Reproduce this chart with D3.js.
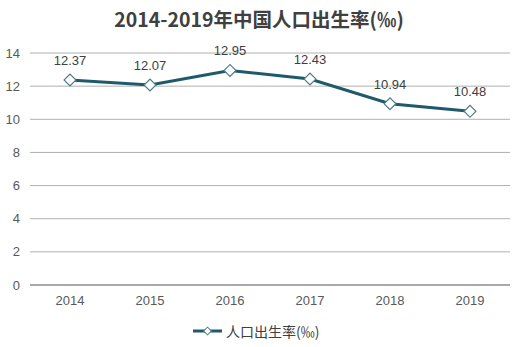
<!DOCTYPE html>
<html><head><meta charset="utf-8">
<script src="https://cdn.jsdelivr.net/npm/d3@7"></script>
<style>body{margin:0;background:#fff;}svg{display:block;font-family:"Liberation Sans",Arial,"Noto Sans CJK SC",sans-serif;}</style>
</head><body>
<svg id="c" width="522" height="347"></svg>
<script>
const years = ["2014","2015","2016","2017","2018","2019"];
const rates = [12.37, 12.07, 12.95, 12.43, 10.94, 10.48];
const yTicks = [0,2,4,6,8,10,12,14];
const title = "2014-2019年中国人口出生率(‰)";
const seriesName = "人口出生率(‰)";

const svg = d3.select("#c");
const x = d3.scaleBand().domain(years).range([30,510]);
const y = d3.scaleLinear().domain([0,14]).range([285,53]);

svg.append("text").attr("x",259).attr("y",27).attr("text-anchor","middle")
  .attr("font-size",19.5).attr("font-weight","bold").attr("fill","#404040")
  .attr("font-family","'Noto Sans CJK SC','Liberation Sans',sans-serif").text(title);

const gy = svg.append("g");
gy.selectAll("line").data(yTicks).join("line")
  .attr("x1",30).attr("x2",510).attr("y1",d=>y(d)).attr("y2",d=>y(d))
  .attr("stroke",d=>d===0?"#8c8c8c":"#b0b0b0").attr("stroke-width",d=>d===0?1.5:1);
gy.selectAll("text").data(yTicks).join("text")
  .attr("x",20).attr("y",d=>y(d)+4.5).attr("text-anchor","end")
  .attr("font-size",13).attr("fill","#595959").text(d=>d);

svg.append("g").selectAll("text").data(years).join("text")
  .attr("x",d=>x(d)+x.bandwidth()/2).attr("y",305).attr("text-anchor","middle")
  .attr("font-size",13).attr("fill","#595959").text(d=>d);

const cx = (d,i)=>x(years[i])+x.bandwidth()/2;
const line = d3.line().x((d,i)=>cx(d,i)).y(d=>y(d));
svg.append("path").datum(rates).attr("d",line).attr("fill","none")
  .attr("stroke","#1f5a6b").attr("stroke-width",3);

svg.append("g").selectAll("path").data(rates).join("path")
  .attr("transform",(d,i)=>`translate(${cx(d,i)},${y(d)}) rotate(45)`)
  .attr("d",d3.symbol().type(d3.symbolSquare).size(70))
  .attr("fill","#fff").attr("stroke","#4f7c8a").attr("stroke-width",1.2);

svg.append("g").selectAll("text").data(rates).join("text")
  .attr("x",(d,i)=>cx(d,i)).attr("y",d=>y(d)-15).attr("text-anchor","middle")
  .attr("font-size",13).attr("fill","#404040").text(d=>d.toFixed(2));

// legend
const lg = svg.append("g");
lg.append("line").attr("x1",193).attr("x2",222).attr("y1",331).attr("y2",331)
  .attr("stroke","#1f5a6b").attr("stroke-width",3);
lg.append("path").attr("transform","translate(207.5,331) rotate(45)")
  .attr("d",d3.symbol().type(d3.symbolSquare).size(30))
  .attr("fill","#fff").attr("stroke","#4f7c8a").attr("stroke-width",1);
lg.append("text").attr("x",226).attr("y",337).attr("font-size",14).attr("fill","#404040")
  .attr("font-family","'Noto Sans CJK SC','Liberation Sans',sans-serif").text(seriesName);
</script>
</body></html>
